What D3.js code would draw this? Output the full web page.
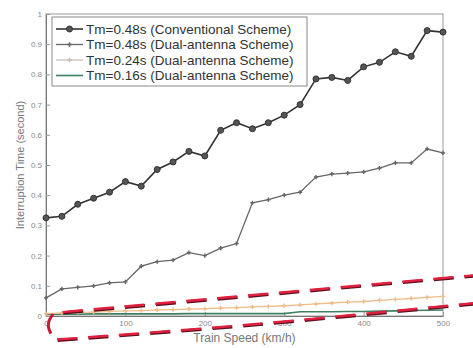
<!DOCTYPE html>
<html>
<head>
<meta charset="utf-8">
<script src="https://cdn.jsdelivr.net/npm/d3@7"></script>
<style>
  body { margin: 0; background: #fff; }
  svg { display: block; font-family: Arial, "Liberation Sans", sans-serif; }
</style>
</head>
<body>
<svg id="chart"></svg>
<script>
// train speed, km/h
let speeds = d3.range(0, 501, 20);

let conventional48 = [0.325, 0.33, 0.37, 0.39, 0.41, 0.445, 0.43, 0.485, 0.51, 0.545,
  0.53, 0.615, 0.64, 0.62, 0.64, 0.665, 0.70, 0.785, 0.79, 0.78,
  0.825, 0.84, 0.875, 0.86, 0.945, 0.94];
let dual48 = [0.06, 0.09, 0.095, 0.10, 0.11, 0.113, 0.165, 0.18, 0.185, 0.21,
  0.20, 0.225, 0.24, 0.375, 0.385, 0.40, 0.41, 0.46, 0.47, 0.473,
  0.477, 0.49, 0.507, 0.507, 0.553, 0.54];
let dual24 = [0.008, 0.01, 0.012, 0.013, 0.015, 0.017, 0.018, 0.02, 0.021, 0.023,
  0.024, 0.026, 0.028, 0.03, 0.032, 0.034, 0.037, 0.04, 0.043, 0.046,
  0.048, 0.052, 0.055, 0.058, 0.062, 0.065];
let dual16 = [0.006, 0.006, 0.006, 0.007, 0.007, 0.007, 0.007, 0.007, 0.007, 0.008,
  0.008, 0.008, 0.008, 0.008, 0.008, 0.008, 0.014, 0.014, 0.014, 0.015,
  0.015, 0.016, 0.017, 0.018, 0.019, 0.02];

let legendLabels = ['Tm=0.48s (Conventional Scheme)', 'Tm=0.48s (Dual-antenna Scheme)',
  'Tm=0.24s (Dual-antenna Scheme)', 'Tm=0.16s (Dual-antenna Scheme)'];

let xTicks = [0, 100, 200, 300, 400, 500];
let yTicks = [0, 0.1, 0.2, 0.3, 0.4, 0.5, 0.6, 0.7, 0.8, 0.9, 1];

// red dashed annotation drawn in data units (km/h, s)
let markUpper = [[21, 0.013], [540, 0.135]];
let markArc = [[9, 0.006], [4, -0.015], [3, -0.035], [6, -0.058]];
let markLower = [[14, -0.078], [258, -0.028], [540, 0.043]];

let width = 473;
let height = 348;

let svg = d3.select('#chart').attr('width', width).attr('height', height);

let x = d3.scaleLinear().domain([0, 500]).range([46, 443]);
let y = d3.scaleLinear().domain([0, 1]).range([316, 14]);

let tickColor = '#8a8a8a';

// box
svg.append('rect')
  .attr('x', x(0)).attr('y', y(1))
  .attr('width', x(500) - x(0)).attr('height', y(0) - y(1))
  .attr('fill', 'none').attr('stroke', '#999').attr('stroke-width', 1);

// axes with inward ticks
let xAxis = svg.append('g')
  .attr('transform', `translate(0,${y(0)})`)
  .call(d3.axisBottom(x).tickValues(xTicks).tickSizeInner(-4).tickSizeOuter(0).tickPadding(4).tickFormat(d3.format('d')));
let yAxis = svg.append('g')
  .attr('transform', `translate(${x(0)},0)`)
  .call(d3.axisLeft(y).tickValues(yTicks).tickSizeInner(-4).tickSizeOuter(0).tickPadding(4).tickFormat(d => d === 0 || d === 1 ? d : d.toFixed(1)));

[xAxis, yAxis].forEach(a => {
  a.select('.domain').attr('stroke', '#777');
  a.selectAll('.tick line').attr('stroke', '#999');
  a.selectAll('.tick text').attr('fill', tickColor).attr('font-size', '8px');
});

// axis titles
svg.append('text')
  .attr('x', (x(0) + x(500)) / 2).attr('y', 342)
  .attr('text-anchor', 'middle').attr('font-size', '12px').attr('fill', '#777')
  .text('Train Speed (km/h)');
svg.append('text')
  .attr('transform', `translate(24,${(y(0) + y(1)) / 2}) rotate(-90)`)
  .attr('text-anchor', 'middle').attr('font-size', '11px').attr('fill', '#777')
  .text('Interruption Time (second)');

let line = d3.line().x(d => x(d[0])).y(d => y(d[1]));

let series = [
  { values: dual16, color: '#3f8060', width: 1.6, marker: 'none' },
  { values: dual24, color: '#efbd8a', width: 1.3, marker: 'plus' },
  { values: dual48, color: '#666', width: 1.3, marker: 'plus' },
  { values: conventional48, color: '#333', width: 1.6, marker: 'circle' }
];

series.forEach(s => {
  let pts = speeds.map((v, i) => [v, s.values[i]]);
  svg.append('path')
    .datum(pts)
    .attr('d', line)
    .attr('fill', 'none')
    .attr('stroke', s.color)
    .attr('stroke-width', s.width);
  if (s.marker === 'circle') {
    svg.selectAll(null).data(pts).enter().append('circle')
      .attr('cx', d => x(d[0])).attr('cy', d => y(d[1])).attr('r', 3)
      .attr('fill', '#555').attr('stroke', '#333').attr('stroke-width', 1);
  } else if (s.marker === 'plus') {
    svg.selectAll(null).data(pts).enter().append('path')
      .attr('d', d3.symbol(d3.symbolCross, 10))
      .attr('transform', d => `translate(${x(d[0])},${y(d[1])})`)
      .attr('fill', s.color);
  }
});

// red dashed annotation
let annot = svg.append('g').attr('fill', 'none');
let curve = d3.line().x(d => x(d[0])).y(d => y(d[1])).curve(d3.curveCatmullRom);
[markUpper, markLower].forEach(m => {
  annot.append('path').datum(m).attr('d', curve)
    .attr('stroke', '#5a1020').attr('stroke-width', 3.2).attr('stroke-dasharray', '20,11')
    .attr('transform', 'translate(0.6,0.8)');
  annot.append('path').datum(m).attr('d', curve)
    .attr('stroke', '#e0203c').attr('stroke-width', 2.4).attr('stroke-dasharray', '20,11');
});
annot.append('path').datum(markArc).attr('d', curve)
  .attr('stroke', '#c41a36').attr('stroke-width', 3);

// legend
let legend = svg.append('g').attr('transform', 'translate(52,17)');
legend.append('rect')
  .attr('width', 255).attr('height', 69)
  .attr('fill', '#fff').attr('stroke', '#888').attr('stroke-width', 1);

let legendStyles = series.slice().reverse();
legendLabels.forEach((label, i) => {
  let s = legendStyles[i];
  let row = legend.append('g').attr('transform', `translate(0,${12 + i * 15.5})`);
  row.append('line')
    .attr('x1', 4).attr('x2', 31)
    .attr('stroke', i === 2 ? '#c8c0b8' : s.color).attr('stroke-width', s.width);
  if (s.marker === 'circle') {
    row.append('circle').attr('cx', 17.5).attr('r', 3).attr('fill', '#555').attr('stroke', '#333');
  } else if (s.marker === 'plus') {
    row.append('path').attr('d', d3.symbol(d3.symbolCross, 12))
      .attr('transform', 'translate(17.5,0)').attr('fill', i === 2 ? '#c8c0b8' : s.color);
  }
  row.append('text')
    .attr('x', 34).attr('dy', '0.35em')
    .attr('font-size', '13.5px').attr('fill', '#333')
    .text(label);
});
</script>
</body>
</html>
